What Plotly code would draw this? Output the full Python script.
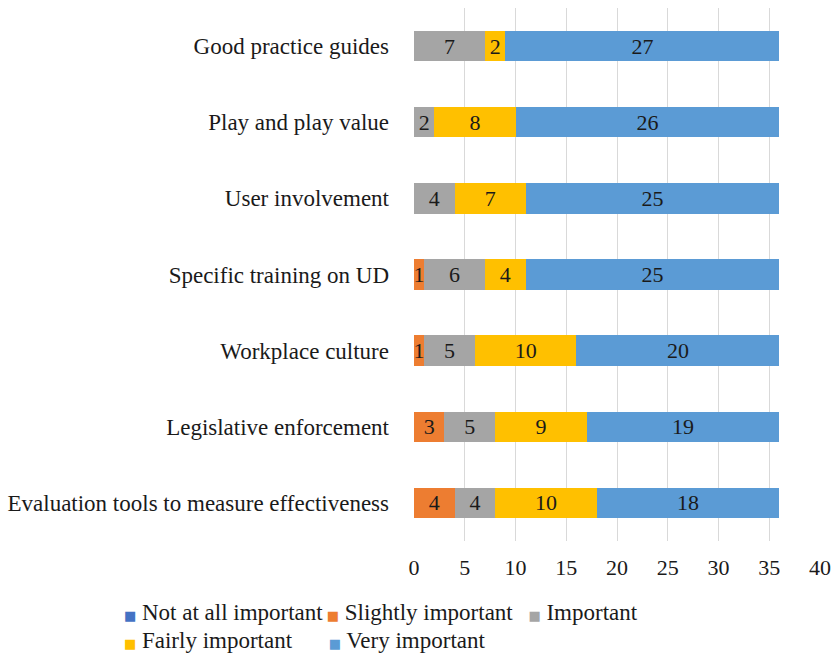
import plotly.graph_objects as go

# Survey factors, listed top to bottom
categories = [
    "Good practice guides",
    "Play and play value",
    "User involvement",
    "Specific training on UD",
    "Workplace culture",
    "Legislative enforcement",
    "Evaluation tools to measure effectiveness",
]

not_at_all = [0, 0, 0, 0, 0, 0, 0]
slightly = [0, 0, 0, 1, 1, 3, 4]
important = [7, 2, 4, 6, 5, 5, 4]
fairly = [2, 8, 7, 4, 10, 9, 10]
very = [27, 26, 25, 25, 20, 19, 18]

series = [
    ("Not at all important", not_at_all, "#4472C4"),
    ("Slightly important", slightly, "#ED7D31"),
    ("Important", important, "#A5A5A5"),
    ("Fairly important", fairly, "#FFC000"),
    ("Very important", very, "#5B9BD5"),
]

x_ticks = [0, 5, 10, 15, 20, 25, 30, 35, 40]

FONT = "Liberation Serif, Times New Roman, serif"
TXT = "#1a1a1a"

fig = go.Figure()

for name, vals, color in series:
    fig.add_trace(go.Bar(
        y=categories,
        x=vals,
        orientation="h",
        name=name,
        marker=dict(color=color, line=dict(width=0)),
        text=[str(v) if v else "" for v in vals],
        textposition="inside",
        insidetextanchor="middle",
        textangle=0,
        textfont=dict(family=FONT, size=22, color=TXT),
        showlegend=False,
        hoverinfo="x+y+name",
    ))

# Legend: one small legend per entry so each can sit at its own spot
# (row 1: three entries, row 2: two entries). The swatch is a small
# coloured square glyph placed right before the label.
PLOT_L, PLOT_W, PLOT_B, PLOT_H = 413.5, 406.5, 541, 533
entry_pos = [(127, 611), (330, 611), (532, 611), (127, 639), (332, 639)]

legend_layout = {}
for i, ((name, vals, color), (sx, sy)) in enumerate(zip(series, entry_pos)):
    key = "legend" if i == 0 else f"legend{i + 1}"
    label = (f"<span style='color:{color};font-family:DejaVu Sans;"
             f"font-size:13px'>■</span> {name}")
    fig.add_trace(go.Scatter(
        x=[None], y=[None], mode="markers", name=label,
        marker=dict(symbol="square", size=0, color="rgba(0,0,0,0)",
                    line=dict(width=0)),
        legend=key, showlegend=True,
    ))
    legend_layout[key] = dict(
        orientation="h",
        x=(sx - 44 - PLOT_L) / PLOT_W, xanchor="left",
        y=(PLOT_B - sy) / PLOT_H, yanchor="middle",
        font=dict(family=FONT, size=23, color=TXT),
        bgcolor="rgba(0,0,0,0)", borderwidth=0,
    )

fig.update_layout(
    width=834, height=662,
    barmode="stack",
    bargap=0.6,
    plot_bgcolor="white",
    paper_bgcolor="white",
    margin=dict(l=413.5, r=14, t=8, b=121, autoexpand=False),
    font=dict(family=FONT, size=22, color=TXT),
    uniformtext=dict(minsize=22, mode="show"),
    xaxis=dict(
        range=[0, 40], tickvals=x_ticks, showgrid=True,
        gridcolor="#d9d9d9", gridwidth=1, zeroline=False,
        showline=False, ticks="", ticklabelstandoff=11,
        tickfont=dict(family=FONT, size=22, color=TXT),
    ),
    yaxis=dict(
        autorange="reversed", showgrid=False, zeroline=False,
        showline=False, ticks="", ticklabelstandoff=24,
        tickfont=dict(family=FONT, size=23, color=TXT),
    ),
    **legend_layout,
)

fig.write_html("out.html")
